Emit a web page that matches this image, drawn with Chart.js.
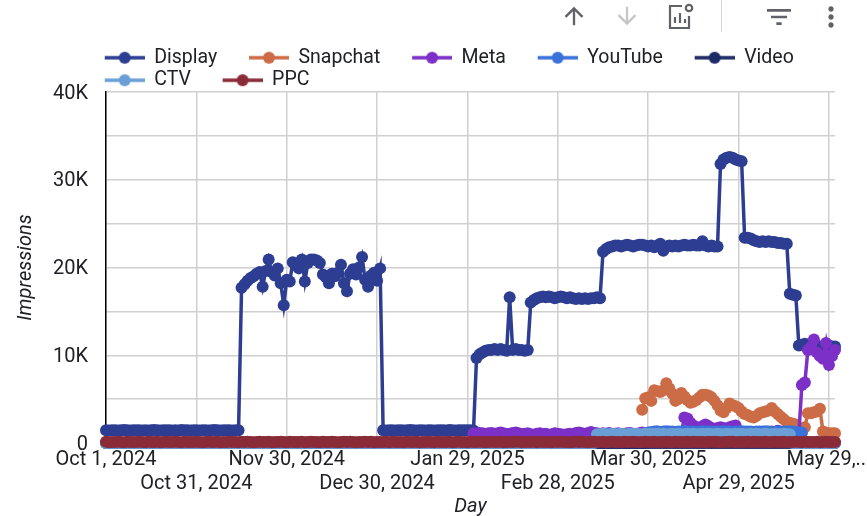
<!DOCTYPE html>
<html>
<head>
<meta charset="utf-8">
<title>Impressions by day</title>
<script src="https://cdn.jsdelivr.net/npm/chart.js@4"></script>
<style>
    html, body { margin: 0; padding: 0; background: #fff; }
    #wrap { position: relative; width: 867px; height: 516px; overflow: hidden; }
    #wrap svg { position: absolute; }
</style>
</head>
<body>
<div id="wrap">
    <canvas id="impressionsChart" width="867" height="516"></canvas>
    <svg style="left:560px;top:2px" width="28" height="28" viewBox="0 0 24 24" fill="#5f6368"><path d="M4 12l1.41 1.41L11 7.83V20h2V7.83l5.58 5.59L20 12l-8-8-8 8z"/></svg>
    <svg style="left:613px;top:2px" width="28" height="28" viewBox="0 0 24 24" fill="#c4c6c9"><path d="M20 12l-1.41-1.41L13 16.17V4h-2v12.17l-5.58-5.59L4 12l8 8 8-8z"/></svg>
    <svg style="left:666px;top:2px" width="30" height="28" viewBox="0 0 30 28" fill="none" stroke="#5f6368" stroke-width="2.2"><path d="M16 4H4v22h19V14"/><path d="M9 21v-6M14 21v-10M19 21v-4"/><circle cx="23" cy="6" r="3.2"/></svg>
    <div style="position:absolute;left:721px;top:0;width:1px;height:32px;background:#d5d7da"></div>
    <svg style="left:762px;top:1px" width="34" height="32" viewBox="0 0 24 24" fill="#5f6368"><path d="M10 18h4v-2h-4v2zM3 6v2h18V6H3zm3 7h12v-2H6v2z"/></svg>
    <svg style="left:815px;top:1px" width="32" height="32" viewBox="0 0 24 24" fill="#5f6368"><path d="M12 8c1.1 0 2-.9 2-2s-.9-2-2-2-2 .9-2 2 .9 2 2 2zm0 2c-1.1 0-2 .9-2 2s.9 2 2 2 2-.9 2-2-.9-2-2-2zm0 6c-1.1 0-2 .9-2 2s.9 2 2 2 2-.9 2-2-.9-2-2-2z"/></svg>
</div>
<script>
const days = [
    'Oct 1','Oct 2','Oct 3','Oct 4','Oct 5','Oct 6','Oct 7','Oct 8','Oct 9','Oct 10',
    'Oct 11','Oct 12','Oct 13','Oct 14','Oct 15','Oct 16','Oct 17','Oct 18','Oct 19','Oct 20',
    'Oct 21','Oct 22','Oct 23','Oct 24','Oct 25','Oct 26','Oct 27','Oct 28','Oct 29','Oct 30',
    'Oct 31','Nov 1','Nov 2','Nov 3','Nov 4','Nov 5','Nov 6','Nov 7','Nov 8','Nov 9',
    'Nov 10','Nov 11','Nov 12','Nov 13','Nov 14','Nov 15','Nov 16','Nov 17','Nov 18','Nov 19',
    'Nov 20','Nov 21','Nov 22','Nov 23','Nov 24','Nov 25','Nov 26','Nov 27','Nov 28','Nov 29',
    'Nov 30','Dec 1','Dec 2','Dec 3','Dec 4','Dec 5','Dec 6','Dec 7','Dec 8','Dec 9',
    'Dec 10','Dec 11','Dec 12','Dec 13','Dec 14','Dec 15','Dec 16','Dec 17','Dec 18','Dec 19',
    'Dec 20','Dec 21','Dec 22','Dec 23','Dec 24','Dec 25','Dec 26','Dec 27','Dec 28','Dec 29',
    'Dec 30','Dec 31','Jan 1','Jan 2','Jan 3','Jan 4','Jan 5','Jan 6','Jan 7','Jan 8',
    'Jan 9','Jan 10','Jan 11','Jan 12','Jan 13','Jan 14','Jan 15','Jan 16','Jan 17','Jan 18',
    'Jan 19','Jan 20','Jan 21','Jan 22','Jan 23','Jan 24','Jan 25','Jan 26','Jan 27','Jan 28',
    'Jan 29','Jan 30','Jan 31','Feb 1','Feb 2','Feb 3','Feb 4','Feb 5','Feb 6','Feb 7',
    'Feb 8','Feb 9','Feb 10','Feb 11','Feb 12','Feb 13','Feb 14','Feb 15','Feb 16','Feb 17',
    'Feb 18','Feb 19','Feb 20','Feb 21','Feb 22','Feb 23','Feb 24','Feb 25','Feb 26','Feb 27',
    'Feb 28','Mar 1','Mar 2','Mar 3','Mar 4','Mar 5','Mar 6','Mar 7','Mar 8','Mar 9',
    'Mar 10','Mar 11','Mar 12','Mar 13','Mar 14','Mar 15','Mar 16','Mar 17','Mar 18','Mar 19',
    'Mar 20','Mar 21','Mar 22','Mar 23','Mar 24','Mar 25','Mar 26','Mar 27','Mar 28','Mar 29',
    'Mar 30','Mar 31','Apr 1','Apr 2','Apr 3','Apr 4','Apr 5','Apr 6','Apr 7','Apr 8',
    'Apr 9','Apr 10','Apr 11','Apr 12','Apr 13','Apr 14','Apr 15','Apr 16','Apr 17','Apr 18',
    'Apr 19','Apr 20','Apr 21','Apr 22','Apr 23','Apr 24','Apr 25','Apr 26','Apr 27','Apr 28',
    'Apr 29','Apr 30','May 1','May 2','May 3','May 4','May 5','May 6','May 7','May 8',
    'May 9','May 10','May 11','May 12','May 13','May 14','May 15','May 16','May 17','May 18',
    'May 19','May 20','May 21','May 22','May 23','May 24','May 25','May 26','May 27','May 28',
    'May 29','May 30','May 31'
];

const xTickLabels = ['Oct 1, 2024', 'Oct 31, 2024', 'Nov 30, 2024', 'Dec 30, 2024', 'Jan 29, 2025', 'Feb 28, 2025', 'Mar 30, 2025', 'Apr 29, 2025', 'May 29,...'];

const display = [
    1450,1430,1460,1440,1420,1450,1470,1440,1430,1450,
    1440,1460,1430,1450,1420,1440,1470,1450,1430,1440,
    1460,1440,1420,1450,1430,1470,1440,1450,1430,1460,
    1440,1420,1450,1460,1430,1440,1470,1450,1430,1440,
    1460,1440,1430,1450,1440,17700,18100,18500,18800,19000,
    19300,19500,17800,19600,20900,19500,19100,19900,18200,15700,
    18600,18400,20600,20400,19900,20900,18400,20500,20900,20900,
    20800,20500,19200,18900,18200,19300,19000,19400,20300,18200,
    17300,19300,19800,19200,20000,21200,18600,17800,19100,19400,
    18500,19900,1450,1430,1440,1460,1420,1450,1440,1430,
    1450,1470,1440,1430,1460,1450,1420,1440,1450,1430,
    1460,1440,1450,1430,1470,1440,1420,1450,1440,1460,
    1440,1450,1430,9700,10100,10300,10500,10600,10600,10700,
    10600,10700,10600,10500,16600,10600,10700,10600,10600,10500,
    10600,16000,16300,16500,16600,16700,16600,16700,16600,16500,
    16600,16700,16600,16500,16600,16500,16400,16500,16400,16500,
    16400,16500,16500,16600,16500,21800,22100,22300,22400,22500,
    22500,22400,22500,22600,22500,22400,22500,22600,22600,22500,
    22400,22500,22300,22500,22700,21900,22400,22500,22400,22500,
    22400,22500,22600,22500,22500,22600,22500,22500,23000,22500,
    22400,22500,22400,22400,31800,32300,32500,32600,32500,32300,
    32200,32100,23400,23400,23300,23100,23000,22900,23000,22900,
    23000,22900,22900,22800,22800,22700,22700,17000,16900,16800,
    11100,11200,11300,11200,11100,11000,11100,10900,11000,11200,
    11100,11000,11000
];

const snapchat = [
    null,null,null,null,null,null,null,null,null,null,
    null,null,null,null,null,null,null,null,null,null,
    null,null,null,null,null,null,null,null,null,null,
    null,null,null,null,null,null,null,null,null,null,
    null,null,null,null,null,null,null,null,null,null,
    null,null,null,null,null,null,null,null,null,null,
    null,null,null,null,null,null,null,null,null,null,
    null,null,null,null,null,null,null,null,null,null,
    null,null,null,null,null,null,null,null,null,null,
    null,null,null,null,null,null,null,null,null,null,
    null,null,null,null,null,null,null,null,null,null,
    null,null,null,null,null,null,null,null,null,null,
    null,null,null,null,null,null,null,null,null,null,
    null,null,null,null,null,null,null,null,null,null,
    null,null,null,null,null,null,null,null,null,null,
    null,null,null,null,null,null,null,null,null,null,
    null,null,null,null,null,null,null,null,null,null,
    null,null,null,null,null,null,null,null,3800,5100,
    5200,4800,6000,5900,5800,6000,6800,6200,5600,4800,
    5000,5700,5300,4900,4600,4700,4900,5200,5500,5500,
    5400,5200,4800,4300,3700,3500,4000,4500,4300,4200,
    4000,3600,3300,3200,3000,2900,3100,3400,3500,3600,
    3700,4000,3600,3300,3000,2700,2400,2300,2200,2100,
    1700,1200,1800,3400,3400,3500,3600,3900,1300,1200,
    1100,1100,1100
];

const meta = [
    null,null,null,null,null,null,null,null,null,null,
    null,null,null,null,null,null,null,null,null,null,
    null,null,null,null,null,null,null,null,null,null,
    null,null,null,null,null,null,null,null,null,null,
    null,null,null,null,null,null,null,null,null,null,
    null,null,null,null,null,null,null,null,null,null,
    null,null,null,null,null,null,null,null,null,null,
    null,null,null,null,null,null,null,null,null,null,
    null,null,null,null,null,null,null,null,null,null,
    null,null,null,null,null,null,null,null,null,null,
    null,null,null,null,null,null,null,null,null,null,
    null,null,null,null,null,null,null,null,null,null,
    null,null,1100,1050,1150,1100,1000,1100,1150,1050,
    1100,1200,1100,1000,1050,1150,1200,1100,1000,1050,
    1100,1000,950,1050,1100,1000,1050,950,1000,1100,
    1050,1000,950,1000,1050,1000,1150,1200,1100,1000,
    1150,1250,1150,1100,1000,1100,1050,1150,1000,1050,
    1100,1000,1050,1100,1150,1050,1000,1100,1200,1050,
    1100,1000,1100,1300,1250,1200,1100,1050,1150,1100,
    1050,1100,2900,2800,2300,2000,1800,1700,1900,2100,
    1900,1700,1500,1700,1800,1700,1600,1800,1900,2000,
    900,800,700,700,700,700,700,700,700,800,
    900,1100,1200,1400,1200,700,500,400,300,300,
    1000,6600,6900,10600,10900,11800,10300,9900,9600,11400,
    8900,9900,10600
];

const youtube = [
    0,0,0,0,0,0,0,0,0,0,
    0,0,0,0,0,0,0,0,0,0,
    0,0,0,0,0,0,0,0,0,0,
    0,0,0,0,0,0,0,0,0,0,
    0,0,0,0,0,0,0,0,0,0,
    0,0,0,0,0,0,0,0,0,0,
    0,0,0,0,0,0,0,0,0,0,
    0,0,0,0,0,0,0,0,0,0,
    0,0,0,0,0,0,0,0,0,0,
    0,0,0,0,0,0,0,0,0,0,
    0,0,0,0,0,0,0,0,0,0,
    0,0,0,0,0,0,0,0,0,0,
    0,0,0,0,0,0,0,0,0,0,
    0,0,0,0,0,0,0,0,0,0,
    0,0,0,0,0,0,0,0,0,0,
    0,0,0,0,0,0,0,0,0,0,
    0,0,0,0,0,0,0,0,0,0,
    0,0,0,0,0,0,0,0,0,0,
    1200,1250,1300,1300,1250,1300,1350,1300,1300,1250,
    1300,1300,1350,1300,1300,1300,1250,1300,1350,1300,
    1300,1300,1250,1300,1300,1350,1300,1300,1250,1300,
    1300,1350,1300,1300,1300,1250,1300,1300,1300,1350,
    1300,1300,1250,1300,1300,1300,1300,1350,1300,1250,
    1200,1200,0,0,0,0,0,0,0,0,
    0,0,0
];

const video = [
    0,0,0,0,0,0,0,0,0,0,
    0,0,0,0,0,0,0,0,0,0,
    0,0,0,0,0,0,0,0,0,0,
    0,0,0,0,0,0,0,0,0,0,
    0,0,0,0,0,0,0,0,0,0,
    0,0,0,0,0,0,0,0,0,0,
    0,0,0,0,0,0,0,0,0,0,
    0,0,0,0,0,0,0,0,0,0,
    0,0,0,0,0,0,0,0,0,0,
    0,0,0,0,0,0,0,0,0,0,
    0,0,0,0,0,0,0,0,0,0,
    0,0,0,0,0,0,0,0,0,0,
    0,0,0,0,0,0,0,0,0,0,
    0,0,0,0,0,0,0,0,0,0,
    0,0,0,0,0,0,0,0,0,0,
    0,0,0,0,0,0,0,0,0,0,
    0,0,0,0,0,0,0,0,0,0,
    0,0,0,0,0,0,0,0,0,0,
    0,0,0,0,0,0,0,0,0,0,
    0,0,0,0,0,0,0,0,0,0,
    0,0,0,0,0,0,0,0,0,0,
    0,0,0,0,0,0,0,0,0,0,
    0,0,0,0,0,0,0,0,0,0,
    0,0,0,0,0,0,0,0,0,0,
    0,0,0
];

const ctv = [
    0,0,0,0,0,0,0,0,0,0,
    0,0,0,0,0,0,0,0,0,0,
    0,0,0,0,0,0,0,0,0,0,
    0,0,0,0,0,0,0,0,0,0,
    0,0,0,0,0,0,0,0,0,0,
    0,0,0,0,0,0,0,0,0,0,
    0,0,0,0,0,0,0,0,0,0,
    0,0,0,0,0,0,0,0,0,0,
    0,0,0,0,0,0,0,0,0,0,
    0,0,0,0,0,0,0,0,0,0,
    0,0,0,0,0,0,0,0,0,0,
    0,0,0,0,0,0,0,0,0,0,
    0,0,0,0,0,0,0,0,0,0,
    0,0,0,0,0,0,0,0,0,0,
    0,0,0,0,0,0,0,0,0,0,
    0,0,0,0,0,0,0,0,0,0,
    0,0,0,1000,1000,1050,1000,1000,1050,1000,
    1000,1050,1000,1000,1050,1000,1050,1000,1000,1050,
    1000,1050,1000,1050,1000,1050,1000,1000,1050,1000,
    1050,1000,1000,1050,1000,1050,1000,1000,1050,1000,
    1050,1000,1000,1050,1000,1000,1050,1000,1000,1050,
    1000,1050,1000,1000,1050,1000,1050,1000,1000,1050,
    1000,1000,1050,1000,1000,1050,1000,1000,0,0,
    0,0,0,0,0,0,0,0,0,0,
    0,0,0
];

const ppc = [
    130,90,120,100,140,110,90,130,100,120,
    110,140,100,90,130,120,100,140,90,110,
    130,100,120,150,110,90,130,100,120,110,
    140,100,90,120,130,110,100,140,90,120,
    110,130,100,120,90,140,110,130,100,90,
    120,140,100,110,130,90,120,100,140,110,
    90,130,120,100,110,140,90,120,130,100,
    110,90,140,120,100,130,110,90,120,140,
    100,130,110,90,120,100,140,110,130,90,
    120,100,110,140,90,130,100,120,110,90,
    140,100,120,130,90,110,100,140,120,90,
    130,110,100,120,140,90,110,130,100,120,
    90,140,110,100,130,120,90,110,140,100,
    120,130,90,110,100,120,140,130,90,110,
    100,120,130,90,140,110,100,120,90,130,
    110,140,100,120,90,110,130,100,140,120,
    90,110,130,100,120,140,90,100,130,110,
    120,90,140,100,110,130,120,90,100,140,
    110,120,130,90,100,110,140,120,90,130,
    100,110,120,140,90,130,100,120,110,90,
    140,100,130,110,90,120,100,140,130,90,
    110,120,100,130,90,140,110,120,100,130,
    90,110,140,100,120,130,90,110,100,140,
    120,90,130,110,100,120,140,90,110,130,
    100,120,110
];

const seriesNames = ['Display', 'Snapchat', 'Meta', 'YouTube', 'Video', 'CTV', 'PPC'];
const seriesValues = [display, snapchat, meta, youtube, video, ctv, ppc];
const seriesColors = ['#2d3e92', '#cc6c46', '#7c30c8', '#3a72dc', '#1d2a66', '#6a9fd6', '#8a2b38'];

// legend key: blank space on the left stands in for the gap between items
function legendKey(color) {
    const key = document.createElement('canvas');
    key.width = 69;
    key.height = 14;
    const ctx = key.getContext('2d');
    ctx.strokeStyle = color;
    ctx.fillStyle = color;
    ctx.lineWidth = 3.5;
    ctx.beginPath();
    ctx.moveTo(29, 7);
    ctx.lineTo(69, 7);
    ctx.stroke();
    ctx.beginPath();
    ctx.arc(49, 7, 6, 0, Math.PI * 2);
    ctx.fill();
    return key;
}

// the legend sits above the plot and starts at the axis line
const moveLegend = {
    id: 'moveLegend',
    afterLayout(chart) {
        chart.legend.left = 73;
        chart.legend.top = 45;
    }
};

const tickFont = { family: 'Roboto', size: 20, lineHeight: 1.2 };

new Chart(document.getElementById('impressionsChart'), {
    type: 'line',
    data: {
        labels: days,
        datasets: seriesNames.map((name, i) => ({
            label: name,
            data: seriesValues[i],
            borderColor: seriesColors[i],
            backgroundColor: seriesColors[i],
            borderWidth: 3.5,
            pointRadius: 6,
            pointBorderWidth: 0,
            tension: 0,
            fill: false,
            clip: false,
            order: seriesNames.length - i
        }))
    },
    options: {
        responsive: false,
        animation: false,
        layout: { padding: { top: 37, right: 32, left: 0, bottom: 0 } },
        plugins: {
            tooltip: { enabled: false },
            legend: {
                align: 'start',
                labels: {
                    usePointStyle: true,
                    pointStyleWidth: 68.5,
                    padding: 3,
                    color: '#202124',
                    font: { family: 'Roboto', size: 19.5, lineHeight: 1 },
                    sort: (a, b) => a.datasetIndex - b.datasetIndex,
                    generateLabels(chart) {
                        const items = Chart.defaults.plugins.legend.labels.generateLabels(chart);
                        items.forEach(item => {
                            item.pointStyle = legendKey(seriesColors[item.datasetIndex]);
                        });
                        return items;
                    }
                }
            }
        },
        scales: {
            x: {
                grid: { color: '#d0d0d0', lineWidth: 1.5, drawTicks: false },
                border: { display: false },
                afterBuildTicks(axis) {
                    axis.ticks = axis.ticks.filter(t => t.value % 30 === 0);
                },
                afterFit(axis) {
                    axis.height = 73;
                    axis.paddingLeft = 0;
                    axis.paddingRight = 0;
                },
                ticks: {
                    autoSkip: false,
                    maxRotation: 0,
                    padding: 5,
                    color: '#202124',
                    font: tickFont,
                    callback(value, index) {
                        return index % 2 ? ['', xTickLabels[index]] : xTickLabels[index];
                    }
                },
                title: {
                    display: true,
                    text: 'Day',
                    color: '#202124',
                    padding: { top: 0, bottom: -3 },
                    font: { family: 'Roboto', size: 20, style: 'italic' }
                }
            },
            y: {
                min: 0,
                max: 40000,
                grid: { color: '#d0d0d0', lineWidth: 1.5, drawTicks: false },
                border: { color: '#000', width: 1.5 },
                afterFit(axis) {
                    axis.width = 106;
                    axis.paddingTop = 0;
                    axis.paddingBottom = 0;
                },
                ticks: {
                    stepSize: 5000,
                    padding: 18,
                    labelOffset: 1.5,
                    color: '#202124',
                    font: { family: 'Roboto', size: 20 },
                    callback(value) {
                        if (value === 0) return '0';
                        return value % 10000 === 0 ? (value / 1000) + 'K' : '';
                    }
                },
                title: {
                    display: true,
                    text: 'Impressions',
                    color: '#202124',
                    padding: { top: 14, bottom: 0 },
                    font: { family: 'Roboto', size: 20, style: 'italic' }
                }
            }
        }
    },
    plugins: [moveLegend]
});
</script>
</body>
</html>
